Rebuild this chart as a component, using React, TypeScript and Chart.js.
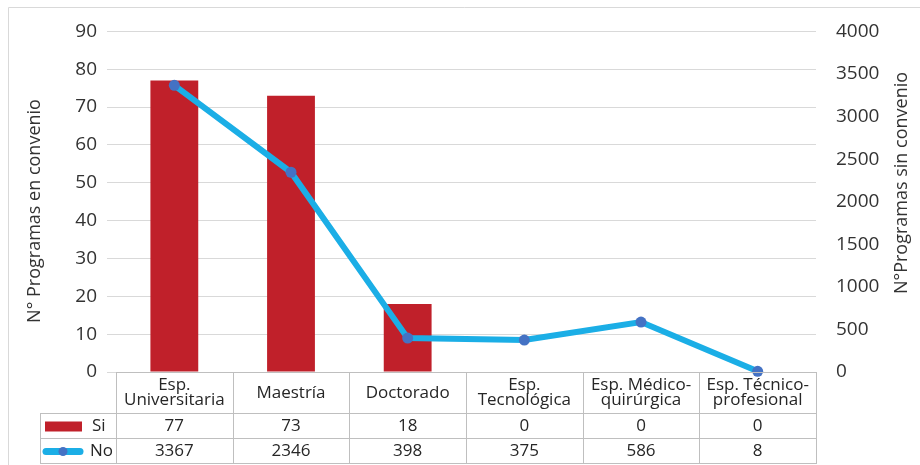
import { useEffect, useRef } from "react";
import { Chart, registerables } from "chart.js";

Chart.register(...registerables);

// Program types (header cells of the data table, one entry per line)
const categories: string[][] = [
  ["Esp.", "Universitaria"],
  ["Maestría"],
  ["Doctorado"],
  ["Esp.", "Tecnológica"],
  ["Esp. Médico-", "quirúrgica"],
  ["Esp. Técnico-", "profesional"],
];
// Programs with agreement (left axis, bars)
const siValues = [77, 73, 18, 0, 0, 0];
// Programs without agreement (right axis, line)
const noValues = [3367, 2346, 398, 375, 586, 8];

const seriesNames = ["Si", "No"];
const leftTitle = "N° Programas en convenio";
const rightTitle = "N°Programas sin convenio";

const leftMax = 90;
const leftStep = 10;
const rightMax = 4000;
const rightStep = 500;

const FONT = "'Open Sans', 'DejaVu Sans', sans-serif";
const TEXT = "#333333";
const CELL_TEXT = "#262626";
const BAR = "#C0202A";
const LINE = "#1BAEE6";
const DOT = "#4472C4";
const TABLE_LINE = "#BFBFBF";

const tablePlugin = {
  id: "dataTable",
  afterDraw(chart: any) {
    const ctx: CanvasRenderingContext2D = chart.ctx;
    const area = chart.chartArea;
    const xs = chart.scales.x;
    const n = categories.length;
    const colW = (area.right - area.left) / n;
    const top = Math.round(area.bottom);
    const headBottom = top + 41;
    const row1Bottom = headBottom + 25;
    const row2Bottom = row1Bottom + 25;
    const legLeft = 40;

    ctx.save();
    // outer frame
    ctx.strokeStyle = "#D9D9D9";
    ctx.lineWidth = 1;
    ctx.beginPath();
    ctx.moveTo(8.5, chart.height);
    ctx.lineTo(8.5, 7.5);
    ctx.lineTo(chart.width, 7.5);
    ctx.stroke();

    // table grid
    ctx.strokeStyle = TABLE_LINE;
    ctx.beginPath();
    ctx.moveTo(area.left, top + 0.5);
    ctx.lineTo(area.right, top + 0.5);
    for (const y of [headBottom, row1Bottom, row2Bottom]) {
      ctx.moveTo(legLeft, y + 0.5);
      ctx.lineTo(area.right, y + 0.5);
    }
    ctx.moveTo(legLeft + 0.5, headBottom);
    ctx.lineTo(legLeft + 0.5, row2Bottom + 1);
    for (let k = 0; k <= n; k++) {
      const x = Math.round(area.left + k * colW) + 0.5;
      ctx.moveTo(x, top);
      ctx.lineTo(x, row2Bottom + 1);
    }
    ctx.stroke();

    // cell text
    ctx.fillStyle = CELL_TEXT;
    ctx.font = `17px ${FONT}`;
    ctx.textAlign = "center";
    ctx.textBaseline = "middle";
    const headMid = (top + headBottom) / 2 + 0.5;
    const r1Mid = (headBottom + row1Bottom) / 2 + 1;
    const r2Mid = (row1Bottom + row2Bottom) / 2 + 1;
    categories.forEach((lines, i) => {
      const cx = xs.getPixelForValue(i);
      const lh = 15;
      lines.forEach((t, j) => {
        ctx.fillText(t, cx, headMid + (j - (lines.length - 1) / 2) * lh);
      });
      ctx.fillText(String(siValues[i]), cx, r1Mid);
      ctx.fillText(String(noValues[i]), cx, r2Mid);
    });

    // legend keys
    ctx.fillStyle = BAR;
    ctx.fillRect(45, r1Mid - 5, 37, 10);
    ctx.strokeStyle = LINE;
    ctx.lineWidth = 7;
    ctx.lineCap = "round";
    ctx.beginPath();
    ctx.moveTo(46, r2Mid);
    ctx.lineTo(80, r2Mid);
    ctx.stroke();
    ctx.fillStyle = DOT;
    ctx.beginPath();
    ctx.arc(63, r2Mid, 4.5, 0, Math.PI * 2);
    ctx.fill();
    ctx.fillStyle = CELL_TEXT;
    ctx.textAlign = "left";
    ctx.fillText(seriesNames[0], 92, r1Mid);
    ctx.fillText(seriesNames[1], 90, r2Mid);

    // axis titles, both reading bottom to top
    ctx.fillStyle = TEXT;
    ctx.font = `18px ${FONT}`;
    ctx.textAlign = "center";
    ctx.save();
    ctx.translate(35, 211);
    ctx.rotate(-Math.PI / 2);
    ctx.fillText(leftTitle, 0, 0);
    ctx.restore();
    ctx.save();
    ctx.translate(902, 183);
    ctx.rotate(-Math.PI / 2);
    ctx.fillText(rightTitle, 0, 0);
    ctx.restore();

    ctx.restore();
  },
};

export default function App() {
  const ref = useRef<HTMLCanvasElement>(null);

  useEffect(() => {
    if (!ref.current) return;
    const chart = new Chart(ref.current, {
      type: "bar",
      data: {
        labels: categories.map((c) => c.join(" ")),
        datasets: [
          {
            type: "line",
            label: seriesNames[1],
            data: noValues,
            yAxisID: "y1",
            borderColor: LINE,
            borderWidth: 6,
            pointRadius: 5.5,
            pointBackgroundColor: DOT,
            pointBorderWidth: 0,
            pointHoverRadius: 5.5,
            tension: 0,
            clip: false as any,
            order: 0,
          } as any,
          {
            type: "bar",
            label: seriesNames[0],
            data: siValues,
            yAxisID: "y",
            backgroundColor: BAR,
            categoryPercentage: 1,
            barPercentage: 0.41,
            order: 1,
          },
        ],
      },
      options: {
        responsive: false,
        animation: false,
        devicePixelRatio: 1,
        layout: { padding: { top: 28, bottom: 93, left: 0, right: 0 } },
        plugins: {
          legend: { display: false },
          tooltip: { enabled: false },
        },
        scales: {
          x: { display: false, offset: true },
          y: {
            position: "left",
            min: 0,
            max: leftMax,
            ticks: {
              stepSize: leftStep,
              padding: 10,
              color: TEXT,
              font: { family: FONT, size: 19 },
            },
            grid: { color: "#D9D9D9", lineWidth: 1, drawTicks: true, tickLength: 9 },
            border: { display: false },
            afterFit: (s: any) => {
              s.width = 116;
            },
          },
          y1: {
            position: "right",
            min: 0,
            max: rightMax,
            ticks: {
              stepSize: rightStep,
              padding: 20,
              color: TEXT,
              font: { family: FONT, size: 19 },
              callback: (v: any) => String(v),
            },
            grid: { display: false, drawTicks: false, drawOnChartArea: false },
            border: { display: false },
            afterFit: (s: any) => {
              s.width = 104;
            },
          },
        },
      },
      plugins: [tablePlugin],
    });
    return () => chart.destroy();
  }, []);

  return (
    <div style={{ position: "fixed", left: 0, top: 0, width: 920, height: 465, background: "#fff" }}>
      <canvas ref={ref} width={920} height={465} style={{ display: "block" }} />
    </div>
  );
}
